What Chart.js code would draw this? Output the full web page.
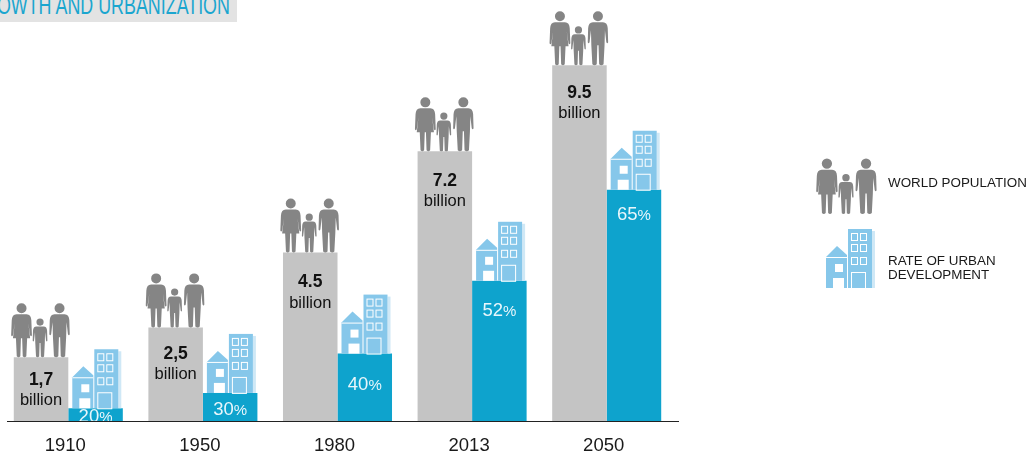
<!DOCTYPE html>
<html>
<head>
<meta charset="utf-8">
<script src="https://cdn.jsdelivr.net/npm/chart.js@4/dist/chart.umd.min.js"></script>
<style>
    html, body { margin: 0; padding: 0; background: #fff; }
    #wrap { position: relative; width: 1032px; height: 455px; overflow: hidden; }
    #heading { position: absolute; left: 0; top: 0; width: 237px; height: 22px; background: #e3e3e3; overflow: hidden; }
    #heading span {
        position: absolute; right: 7px; top: -9px; white-space: nowrap;
        font: 25px/28px "Liberation Sans", sans-serif; color: #1ba6cf;
        transform: scaleX(0.715); transform-origin: right center;
    }
    .key { position: absolute; left: 888px; font: 13.4px/13.5px "Liberation Sans", sans-serif; color: #1a1a1a; white-space: nowrap; }
</style>
</head>
<body>
<div id="wrap">
    <div id="heading"><span>OWTH AND URBANIZATION</span></div>
    <canvas id="chart" width="1032" height="455"></canvas>
    <div class="key" style="top:176px">WORLD POPULATION</div>
    <div class="key" style="top:254px">RATE OF URBAN<br>DEVELOPMENT</div>
</div>
<script>
const years = ['1910', '1950', '1980', '2013', '2050'];
const population = [1.7, 2.5, 4.5, 7.2, 9.5];
const populationLabels = ['1,7', '2,5', '4.5', '7.2', '9.5'];
const urbanRate = [20, 30, 40, 52, 65];

// The blue bars show the urban share of each year's population
const urbanPopulation = population.map((p, i) => p * urbanRate[i] / 100);

const GREY = '#c4c4c4';
const BLUE = '#0ea3cd';
const FIGURE = '#858585';
const SKY = '#86c7ea';
const FONT = '"Liberation Sans", sans-serif';

// Distance from bar top to its label, per year
const greyLabelDrop = [23, 27, 30, 30, 28];
const blueLabelDrop = [9, 17, 31, 30, 25];

const manPath = new Path2D('M5,-49 A5,5 0 1 0 -5,-49 A5,5 0 1 0 5,-49 Z ' +
    'M-5,-43 H5 Q9.5,-43 9.8,-37 L10.2,-23 Q9.5,-21 8.4,-23 L7,-35 L6.6,-20 L5.6,-1 Q3.5,1 1.2,-1 L0.6,-20 H-0.6 L-1.2,-1 Q-3.5,1 -5.6,-1 L-6.6,-20 L-7,-35 L-8.4,-23 Q-9.5,-21 -10.2,-23 L-9.8,-37 Q-9.5,-43 -5,-43 Z');
const womanPath = new Path2D('M5,-49 A5,5 0 1 0 -5,-49 A5,5 0 1 0 5,-49 Z ' +
    'M-5,-43 H5 Q9.5,-43 9.8,-37 L10.4,-22 Q9.6,-20 8.6,-22 L6.8,-34 L8.6,-19 H5.6 L4.8,-1 Q3,1 1.2,-1 L0.6,-19 H-0.6 L-1.2,-1 Q-3,1 -4.8,-1 L-5.6,-19 H-8.6 L-6.8,-34 L-8.6,-22 Q-9.6,-20 -10.4,-22 L-9.8,-37 Q-9.5,-43 -5,-43 Z');

function drawFamily(ctx, cx, base, size = 1) {
    ctx.save();
    ctx.translate(cx, base);
    ctx.scale(size, size);
    ctx.fillStyle = FIGURE;
    [[-19.5, 1, womanPath], [-1, 0.72, manPath], [18.5, 1, manPath]].forEach(([dx, s, path]) => {
        ctx.save();
        ctx.translate(dx, 0);
        ctx.scale(s, s);
        ctx.fill(path);
        ctx.restore();
    });
    ctx.restore();
}

function drawBuildings(ctx, left, base, size = 1) {
    ctx.save();
    ctx.translate(left, base);
    ctx.scale(size, size);

    // tower with its shaded side
    ctx.fillStyle = '#cfe8f6';
    ctx.fillRect(50, -57, 3, 57);
    ctx.fillStyle = SKY;
    ctx.fillRect(26, -59, 24, 59);

    // house
    ctx.beginPath();
    ctx.moveTo(4, -31);
    ctx.lineTo(15, -42);
    ctx.lineTo(25, -33);
    ctx.lineTo(25, 0);
    ctx.lineTo(4, 0);
    ctx.closePath();
    ctx.fill();

    ctx.fillStyle = '#fff';
    ctx.fillRect(4, -31, 21, 1);
    ctx.fillRect(13, -24, 8, 8);
    ctx.fillRect(11, -10, 11, 10);

    ctx.strokeStyle = '#fff';
    ctx.lineWidth = 1;
    [-55, -44, -31].forEach(y => {
        ctx.strokeRect(29.5, y + 0.5, 6, 7);
        ctx.strokeRect(38.5, y + 0.5, 6, 7);
    });
    ctx.strokeRect(29.5, -15.5, 14, 16);
    ctx.restore();
}

const pictogramPlugin = {
    id: 'pictograms',
    afterDatasetsDraw(chart) {
        const { ctx, chartArea } = chart;
        const greyBars = chart.getDatasetMeta(0).data;
        const blueBars = chart.getDatasetMeta(1).data;

        greyBars.forEach((bar, i) => {
            drawFamily(ctx, bar.x, bar.y);

            ctx.textAlign = 'center';
            ctx.textBaseline = 'middle';
            ctx.fillStyle = '#111';
            ctx.font = `bold 17.5px ${FONT}`;
            ctx.fillText(populationLabels[i], bar.x, bar.y + greyLabelDrop[i]);
            ctx.font = `16.5px ${FONT}`;
            ctx.fillText('billion', bar.x, bar.y + greyLabelDrop[i] + 20.5);
        });

        blueBars.forEach((bar, i) => {
            drawBuildings(ctx, bar.x - bar.width / 2, bar.y);

            // the lowest label runs into the axis, so keep it inside the plot
            ctx.save();
            ctx.beginPath();
            ctx.rect(chartArea.left, chartArea.top, chartArea.width, chartArea.height);
            ctx.clip();
            const num = String(urbanRate[i]);
            ctx.textBaseline = 'middle';
            ctx.textAlign = 'left';
            ctx.fillStyle = '#e8f6fb';
            ctx.font = `18.5px ${FONT}`;
            const numWidth = ctx.measureText(num).width;
            ctx.font = `15px ${FONT}`;
            const pctWidth = ctx.measureText('%').width;
            const startX = bar.x - (numWidth + pctWidth) / 2;
            ctx.fillText('%', startX + numWidth, bar.y + blueLabelDrop[i] + 1);
            ctx.font = `18.5px ${FONT}`;
            ctx.fillText(num, startX, bar.y + blueLabelDrop[i]);
            ctx.restore();
        });

        // baseline runs a little past the last group
        ctx.save();
        ctx.strokeStyle = '#222';
        ctx.lineWidth = 1.2;
        ctx.beginPath();
        ctx.moveTo(7, chartArea.bottom + 0.5);
        ctx.lineTo(679, chartArea.bottom + 0.5);
        ctx.stroke();
        ctx.restore();

        // key on the right
        drawFamily(ctx, 847, 214, 1.03);
        drawBuildings(ctx, 822, 288);
    }
};

new Chart(document.getElementById('chart').getContext('2d'), {
    type: 'bar',
    data: {
        labels: years,
        datasets: [
            { label: 'World population', data: population, backgroundColor: GREY },
            { label: 'Rate of urban development', data: urbanPopulation, backgroundColor: BLUE }
        ]
    },
    options: {
        responsive: false,
        animation: false,
        categoryPercentage: 0.81,
        barPercentage: 1,
        layout: { padding: { left: 1, right: 358, top: 46.5, bottom: 0 } },
        plugins: {
            legend: { display: false },
            tooltip: { enabled: false }
        },
        scales: {
            x: {
                grid: { display: false, drawTicks: false },
                border: { display: false },
                afterFit: (scale) => { scale.height = 34; },
                ticks: {
                    color: '#1a1a1a',
                    font: { family: FONT, size: 18.5 },
                    padding: 14,
                    labelOffset: -3,
                    maxRotation: 0
                }
            },
            y: {
                display: false,
                min: 0,
                max: 10
            }
        }
    },
    plugins: [pictogramPlugin]
});
</script>
</body>
</html>
